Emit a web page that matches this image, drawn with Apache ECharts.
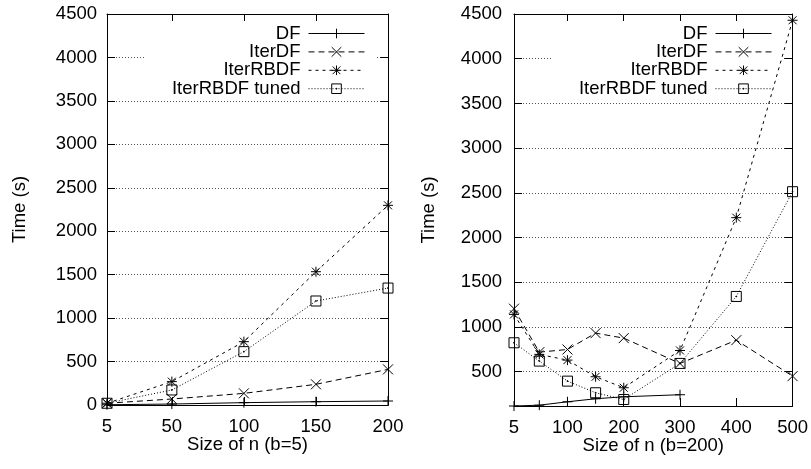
<!DOCTYPE html>
<html>
<head>
<meta charset="utf-8">
<script src="https://cdn.jsdelivr.net/npm/echarts@6/dist/echarts.min.js"></script>
<style>
html,body{margin:0;padding:0;background:#fff;}
#chart{width:811px;height:469px;}
</style>
</head>
<body>
<div id="chart"></div>
<script>
// ---- data ----
const seriesNames = ['DF', 'IterDF', 'IterRBDF', 'IterRBDF tuned'];

const leftX = [5, 50, 100, 150, 200];
const leftDF = [3, 11, 27, 38, 46];
const leftIterDF = [20, 69, 134, 238, 410];
const leftIterRBDF = [20, 269, 729, 1534, 2298];
const leftTuned = [20, 173, 614, 1197, 1346];

const rightX = [5, 50, 100, 150, 200, 300, 400, 500];
const rightDF = [117, 126, 164, 198, 220, 243];
const rightIterDF = [1205, 719, 749, 932, 876, 593, 853, 451];
const rightIterRBDF = [1141, 694, 630, 444, 321, 738, 2223, 4430];
const rightTuned = [824, 619, 395, 265, 190, 593, 1342, 2513];

const leftXTicks = [5, 50, 100, 150, 200];
const rightXTicks = [5, 100, 200, 300, 400, 500];
const leftYTicks = [0, 500, 1000, 1500, 2000, 2500, 3000, 3500, 4000, 4500];
const rightYTicks = [500, 1000, 1500, 2000, 2500, 3000, 3500, 4000, 4500];
const rightYMin = 117;

const leftXName = 'Size of n (b=5)';
const rightXName = 'Size of n (b=200)';
const yName = 'Time (s)';

// ---- styles ----
const FONT = '"Liberation Sans", Arial, Helvetica, sans-serif';
const FS = 18.5;
const symPlus = 'path://M0,5L10,5M5,0L5,10';
const symCross = 'path://M0,0L10,10M10,0L0,10';
const symStar = 'path://M0,5L10,5M5,0L5,10M1,1L9,9M9,1L1,9';
const symSquare = 'path://M0,0L10,0L10,10L0,10Z M4.6,4.6L5.4,4.6L5.4,5.4L4.6,5.4Z';
const styles = [
  {symbol: symPlus, dash: 'solid'},
  {symbol: symCross, dash: [6, 4]},
  {symbol: symStar, dash: [3, 4]},
  {symbol: symSquare, dash: [1, 2]}
];

function zip(xs, ys) { return ys.map((y, i) => [xs[i], y]); }

const leftData = [leftDF, leftIterDF, leftIterRBDF, leftTuned];
const rightData = [rightDF, rightIterDF, rightIterRBDF, rightTuned];

const series = [];
[[leftX, leftData, 0], [rightX, rightData, 1]].forEach(([xs, data, gi]) => {
  data.forEach((ys, i) => {
    series.push({
      name: seriesNames[i],
      type: 'line',
      xAxisIndex: gi * 2,
      yAxisIndex: gi * 2,
      data: zip(xs, ys),
      symbol: styles[i].symbol,
      symbolSize: 10,
      z: 3,
      lineStyle: {color: '#000', width: 1, type: styles[i].dash},
      itemStyle: {color: 'rgba(0,0,0,0)', borderColor: '#000', borderWidth: 1},
      emphasis: {disabled: true}
    });
  });
});

const grids = [
  {left: 107, top: 14, width: 281, height: 391},
  {left: 514, top: 14, width: 281, height: 392}
];

const plain = v => String(v);

function mainX(gi, min, max, ticks, name) {
  return {
    type: 'value', gridIndex: gi, min: min, max: max, position: 'bottom',
    name: name, nameLocation: 'middle', nameGap: 30, nameMoveOverlap: false,
    nameTextStyle: {fontFamily: FONT, fontSize: FS, color: '#000'},
    axisLine: {show: true, onZero: false, lineStyle: {color: '#000', width: 1}},
    axisTick: {show: true, inside: true, length: 8, customValues: ticks, lineStyle: {color: '#000'}},
    axisLabel: {show: true, customValues: ticks, margin: 12, formatter: plain, fontFamily: FONT, fontSize: FS, color: '#000'},
    splitLine: {show: false}
  };
}
function mirrorX(gi, min, max, ticks) {
  return {
    type: 'value', gridIndex: gi, min: min, max: max, position: 'top',
    axisLine: {show: true, onZero: false, lineStyle: {color: '#000', width: 1}},
    axisTick: {show: true, inside: true, length: 8, customValues: ticks, lineStyle: {color: '#000'}},
    axisLabel: {show: false},
    splitLine: {show: false}
  };
}
function mainY(gi, min, max, ticks, gap, lmargin) {
  return {
    type: 'value', gridIndex: gi, min: min, max: max, position: 'left',
    name: yName, nameLocation: 'middle', nameGap: gap, nameRotate: 90, nameMoveOverlap: false,
    nameTextStyle: {fontFamily: FONT, fontSize: FS, color: '#000'},
    axisLine: {show: true, onZero: false, lineStyle: {color: '#000', width: 1}},
    axisTick: {show: true, inside: true, length: 8, customValues: ticks, lineStyle: {color: '#000'}},
    axisLabel: {show: true, customValues: ticks, margin: lmargin, formatter: plain, fontFamily: FONT, fontSize: FS, color: '#000'},
    splitLine: {show: true, lineStyle: {color: '#555', width: 1, type: [1, 2]}}
  };
}
function mirrorY(gi, min, max, ticks) {
  return {
    type: 'value', gridIndex: gi, min: min, max: max, position: 'right',
    axisLine: {show: true, onZero: false, lineStyle: {color: '#000', width: 1}},
    axisTick: {show: true, inside: true, length: 8, customValues: ticks, lineStyle: {color: '#000'}},
    axisLabel: {show: false},
    splitLine: {show: false}
  };
}

function legend(rightPos) {
  return {
    data: seriesNames,
    orient: 'vertical',
    align: 'right',
    right: rightPos,
    top: 21,
    z: 1,
    itemWidth: 56,
    itemHeight: 12,
    itemGap: -0.6,
    padding: [3, 12, 2, 27],
    backgroundColor: '#fff',
    selectedMode: false,
    lineStyle: {width: 1},
    itemStyle: {borderWidth: 1},
    textStyle: {fontFamily: FONT, fontSize: FS, color: '#000', padding: [0, 3, 0, 0]}
  };
}

const option = {
  animation: false,
  backgroundColor: '#fff',
  grid: grids,
  xAxis: [
    mainX(0, 5, 200, leftXTicks, leftXName),
    mirrorX(0, 5, 200, leftXTicks),
    mainX(1, 5, 500, rightXTicks, rightXName),
    mirrorX(1, 5, 500, rightXTicks)
  ],
  yAxis: [
    mainY(0, 0, 4500, leftYTicks, 78, 10),
    mirrorY(0, 0, 4500, leftYTicks),
    mainY(1, rightYMin, 4500, rightYTicks, 76, 12),
    mirrorY(1, rightYMin, 4500, rightYTicks)
  ],
  legend: [legend(434), legend(27)],
  series: series
};

const chart = echarts.init(document.getElementById('chart'), null, {renderer: 'canvas'});
chart.setOption(option);
</script>
</body>
</html>
